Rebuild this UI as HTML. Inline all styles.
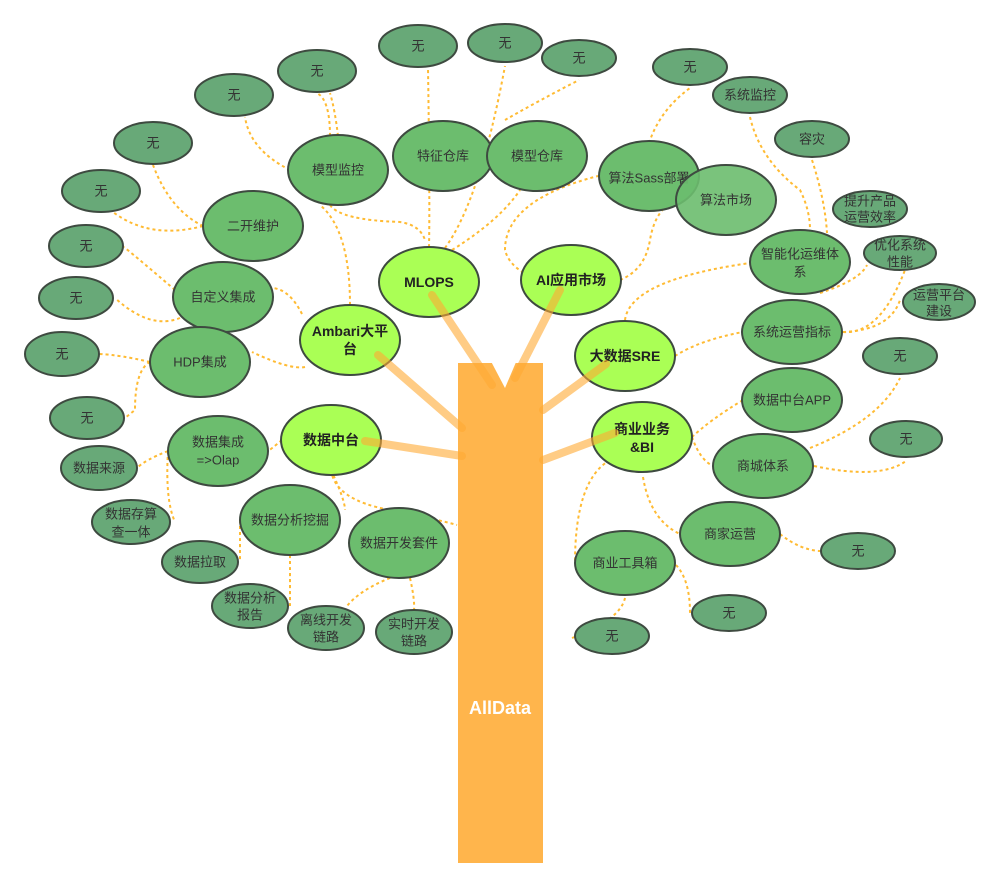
<!DOCTYPE html>
<html><head><meta charset="utf-8"><style>
html,body{margin:0;padding:0;background:#fff;}
svg{display:block;font-family:"Liberation Sans","Noto Sans CJK SC",sans-serif;}
.d{fill:#68a978;stroke:#3e4a40;stroke-width:2}
.m{fill:#6cbd6e;stroke:#3e4a40;stroke-width:2}
.b{fill:#aaff55;stroke:#3e4a40;stroke-width:2}
.c{fill:none;stroke:#ffbb33;stroke-width:2;stroke-dasharray:3 3}
.br{stroke:#ffaa33;stroke-width:8;stroke-opacity:.6;stroke-linecap:round}
text{font-size:13px;fill:#333;text-anchor:middle;dominant-baseline:central}
.bt{font-weight:bold;font-size:14px;fill:#222}
</style></head><body>
<svg width="1000" height="888" viewBox="0 0 1000 888">
<g class="c">
<path d="M429 247 Q430 200 428 68"/>
<path d="M445 248 Q480 200 505 66"/>
<path d="M452 250 Q500 220 520 190 M505 120 Q540 100 579 80"/>
<path d="M350 305 Q350 230 320 205 M330 136 Q330 100 317 93"/>
<path d="M338 136 Q335 110 330 93"/>
<path d="M290 170 Q250 150 245 117"/>
<path d="M330 205 Q340 220 400 222 Q420 225 425 240"/>
<path d="M203 226 Q170 210 153 165"/>
<path d="M203 226 Q150 240 113 212"/>
<path d="M175 290 Q140 260 124 247"/>
<path d="M180 318 Q150 330 115 298"/>
<path d="M150 362 Q120 355 100 354"/>
<path d="M150 362 Q135 370 135 410 L125 418"/>
<path d="M302 314 Q290 290 273 288"/>
<path d="M305 367 Q290 370 252 352"/>
<path d="M540 280 Q510 270 505 250 Q505 200 598 176"/>
<path d="M620 280 Q645 270 650 240 Q655 210 675 200"/>
<path d="M649 143 Q660 110 690 88"/>
<path d="M625 320 Q630 280 750 263"/>
<path d="M750 117 Q760 160 800 190 Q810 210 810 230"/>
<path d="M812 160 Q825 200 827 233"/>
<path d="M675 356 Q700 340 743 332"/>
<path d="M843 332 Q880 335 905 270"/>
<path d="M843 332 Q890 330 900 300"/>
<path d="M820 293 Q860 280 867 265"/>
<path d="M692 437 Q710 420 743 400"/>
<path d="M692 437 Q700 460 713 466"/>
<path d="M810 448 Q880 420 900 378"/>
<path d="M814 466 Q880 480 906 461"/>
<path d="M643 477 Q650 520 680 534"/>
<path d="M780 534 Q800 550 820 551"/>
<path d="M610 460 Q575 480 575 563"/>
<path d="M625 598 Q620 620 572 638"/>
<path d="M676 565 Q690 580 690 613"/>
<path d="M282 440 Q270 450 268 451"/>
<path d="M168 451 Q145 460 137 468"/>
<path d="M168 451 Q165 500 175 522"/>
<path d="M331 470 Q335 500 390 510 Q440 520 457 525"/>
<path d="M331 470 Q345 500 345 510"/>
<path d="M240 520 Q240 550 240 560"/>
<path d="M290 555 Q290 590 290 606"/>
<path d="M390 578 Q360 590 347 606"/>
<path d="M410 578 Q415 600 414 611"/>
</g>
<rect x="458" y="363" width="85" height="500" fill="#ffb54c"/>
<polygon points="484,348 522,348 505,388" fill="#fff"/>
<text x="500" y="708" style="fill:#fff;font-weight:bold;font-size:18px">AllData</text>
<g>
<ellipse class="d" cx="418" cy="46" rx="39" ry="21"/><text x="418" y="46">无</text>
<ellipse class="d" cx="505" cy="43" rx="37" ry="19"/><text x="505" y="43">无</text>
<ellipse class="d" cx="579" cy="58" rx="37" ry="18"/><text x="579" y="58">无</text>
<ellipse class="d" cx="690" cy="67" rx="37" ry="18"/><text x="690" y="67">无</text>
<ellipse class="d" cx="317" cy="71" rx="39" ry="21"/><text x="317" y="71">无</text>
<ellipse class="d" cx="234" cy="95" rx="39" ry="21"/><text x="234" y="95">无</text>
<ellipse class="d" cx="153" cy="143" rx="39" ry="21"/><text x="153" y="143">无</text>
<ellipse class="d" cx="101" cy="191" rx="39" ry="21"/><text x="101" y="191">无</text>
<ellipse class="d" cx="86" cy="246" rx="37" ry="21"/><text x="86" y="246">无</text>
<ellipse class="d" cx="76" cy="298" rx="37" ry="21"/><text x="76" y="298">无</text>
<ellipse class="d" cx="62" cy="354" rx="37" ry="22"/><text x="62" y="354">无</text>
<ellipse class="d" cx="87" cy="418" rx="37" ry="21"/><text x="87" y="418">无</text>
<ellipse class="d" cx="900" cy="356" rx="37" ry="18"/><text x="900" y="356">无</text>
<ellipse class="d" cx="906" cy="439" rx="36" ry="18"/><text x="906" y="439">无</text>
<ellipse class="d" cx="858" cy="551" rx="37" ry="18"/><text x="858" y="551">无</text>
<ellipse class="d" cx="729" cy="613" rx="37" ry="18"/><text x="729" y="613">无</text>
<ellipse class="d" cx="612" cy="636" rx="37" ry="18"/><text x="612" y="636">无</text>
<ellipse class="d" cx="750" cy="95" rx="37" ry="18"/><text x="750" y="95">系统监控</text>
<ellipse class="d" cx="812" cy="139" rx="37" ry="18"/><text x="812" y="139">容灾</text>
<ellipse class="d" cx="99" cy="468" rx="38" ry="22"/><text x="99" y="468">数据来源</text>
<ellipse class="d" cx="131" cy="522" rx="39" ry="22"/><text x="131" y="514">数据存算</text><text x="131" y="532">查一体</text>
<ellipse class="d" cx="200" cy="562" rx="38" ry="21"/><text x="200" y="562">数据拉取</text>
<ellipse class="d" cx="250" cy="606" rx="38" ry="22"/><text x="250" y="598">数据分析</text><text x="250" y="615">报告</text>
<ellipse class="d" cx="326" cy="628" rx="38" ry="22"/><text x="326" y="620">离线开发</text><text x="326" y="637">链路</text>
<ellipse class="d" cx="414" cy="632" rx="38" ry="22"/><text x="414" y="624">实时开发</text><text x="414" y="641">链路</text>
</g>
<g>
<ellipse class="m" cx="338" cy="170" rx="50" ry="35"/><text x="338" y="170">模型监控</text>
<ellipse class="m" cx="443" cy="156" rx="50" ry="35"/><text x="443" y="156">特征仓库</text>
<ellipse class="m" cx="537" cy="156" rx="50" ry="35"/><text x="537" y="156">模型仓库</text>
<ellipse class="m" cx="649" cy="176" rx="50" ry="35"/><text x="649" y="178">算法Sass部署</text>
<ellipse class="m" cx="726" cy="200" rx="50" ry="35" style="fill-opacity:.9"/><text x="726" y="200">算法市场</text>
<ellipse class="m" cx="253" cy="226" rx="50" ry="35"/><text x="253" y="226">二开维护</text>
<ellipse class="m" cx="223" cy="297" rx="50" ry="35"/><text x="223" y="297">自定义集成</text>
<ellipse class="m" cx="200" cy="362" rx="50" ry="35"/><text x="200" y="362">HDP集成</text>
<ellipse class="m" cx="800" cy="262" rx="50" ry="32"/><text x="800" y="254">智能化运维体</text><text x="800" y="272">系</text>
<ellipse class="d" cx="870" cy="209" rx="37" ry="18"/><text x="870" y="201">提升产品</text><text x="870" y="217">运营效率</text>
<ellipse class="d" cx="900" cy="253" rx="36" ry="17"/><text x="900" y="245">优化系统</text><text x="900" y="262">性能</text>
<ellipse class="d" cx="939" cy="302" rx="36" ry="18"/><text x="939" y="295">运营平台</text><text x="939" y="311">建设</text>
<ellipse class="m" cx="792" cy="332" rx="50" ry="32"/><text x="792" y="332">系统运营指标</text>
<ellipse class="m" cx="792" cy="400" rx="50" ry="32"/><text x="792" y="400">数据中台APP</text>
<ellipse class="m" cx="763" cy="466" rx="50" ry="32"/><text x="763" y="466">商城体系</text>
<ellipse class="m" cx="730" cy="534" rx="50" ry="32"/><text x="730" y="534">商家运营</text>
<ellipse class="m" cx="625" cy="563" rx="50" ry="32"/><text x="625" y="563">商业工具箱</text>
<ellipse class="m" cx="218" cy="451" rx="50" ry="35"/><text x="218" y="442">数据集成</text><text x="218" y="460">=&gt;Olap</text>
<ellipse class="m" cx="290" cy="520" rx="50" ry="35"/><text x="290" y="520">数据分析挖掘</text>
<ellipse class="m" cx="399" cy="543" rx="50" ry="35"/><text x="399" y="543">数据开发套件</text>
</g>
<g>
<ellipse class="b" cx="429" cy="282" rx="50" ry="35"/><text class="bt" x="429" y="282">MLOPS</text>
<ellipse class="b" cx="350" cy="340" rx="50" ry="35"/><text class="bt" x="350" y="331">Ambari大平</text><text class="bt" x="350" y="349">台</text>
<ellipse class="b" cx="571" cy="280" rx="50" ry="35"/><text class="bt" x="571" y="280">AI应用市场</text>
<ellipse class="b" cx="625" cy="356" rx="50" ry="35"/><text class="bt" x="625" y="356">大数据SRE</text>
<ellipse class="b" cx="642" cy="437" rx="50" ry="35"/><text class="bt" x="642" y="429">商业业务</text><text class="bt" x="642" y="447">&amp;BI</text>
<ellipse class="b" cx="331" cy="440" rx="50" ry="35"/><text class="bt" x="331" y="440">数据中台</text>
</g>
<line class="br" x1="492" y1="385" x2="432" y2="295"/>
<line class="br" x1="462" y1="428" x2="378" y2="355"/>
<line class="br" x1="462" y1="456" x2="365" y2="441"/>
<line class="br" x1="515" y1="378" x2="560" y2="290"/>
<line class="br" x1="543" y1="410" x2="606" y2="364"/>
<line class="br" x1="543" y1="460" x2="615" y2="433"/>
</svg>
</body></html>
